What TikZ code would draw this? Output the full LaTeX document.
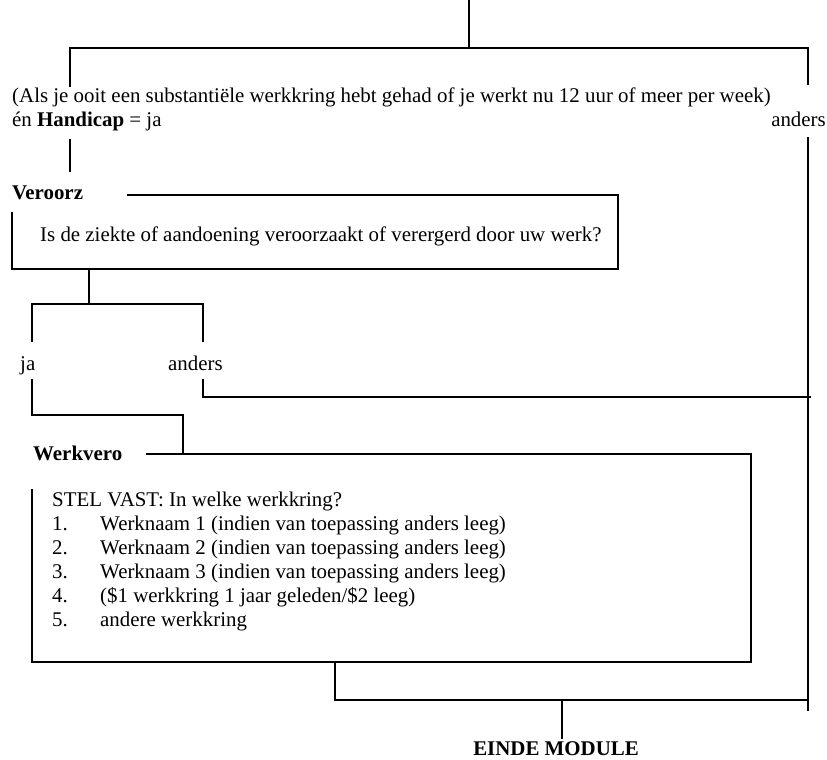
\documentclass[tikz,border=0pt]{standalone}
\usepackage{fontspec}
\setmainfont{Liberation Serif}
\begin{document}
\begin{tikzpicture}[x=1pt,y=-1pt,
  txt/.style={anchor=base west, inner sep=0pt, font=\fontsize{20.9}{24}\selectfont},
  ln/.style={line width=1.8pt, line cap=rect}]
\useasboundingbox (0,0) rectangle (827,760);
% texts
\node[txt] (cond1) at (12,102) {(Als je ooit een substantiële werkkring hebt gehad of je werkt nu 12 uur of meer per week)};
\node[txt] (cond2) at (12,126) {én \textbf{Handicap} = ja};
\node[txt, anchor=base east] (anders1) at (826,126) {anders};
\node[txt] (veroorz) at (12,199) {\textbf{Veroorz}};
\node[txt] (q1) at (40,241) {Is de ziekte of aandoening veroorzaakt of verergerd door uw werk?};
\node[txt] (ja) at (20,370) {ja};
\node[txt] (anders2) at (168,370) {anders};
\node[txt] (werkvero) at (33,460) {\textbf{Werkvero}};
\node[txt] (stel) at (52,506) {STEL VAST: In welke werkkring?};
\node[txt] (n1) at (52,530) {1.};
\node[txt] (i1) at (100,530) {Werknaam 1 (indien van toepassing anders leeg)};
\node[txt] (n2) at (52,554) {2.};
\node[txt] (i2) at (100,554) {Werknaam 2 (indien van toepassing anders leeg)};
\node[txt] (n3) at (52,578) {3.};
\node[txt] (i3) at (100,578) {Werknaam 3 (indien van toepassing anders leeg)};
\node[txt] (n4) at (52,602) {4.};
\node[txt] (i4) at (100,602) {(\$1 werkkring 1 jaar geleden/\$2 leeg)};
\node[txt] (n5) at (52,626) {5.};
\node[txt] (i5) at (100,626) {andere werkkring};
\node[txt, anchor=base] (einde) at (556,755) {\textbf{EINDE MODULE}};
% coordinates
\coordinate (start) at (469,0);
\coordinate (jtop) at (469,48);
\coordinate (lt) at (70,86);
\coordinate (rt) at (808,84);
\coordinate (lb1) at (70,140);
\coordinate (lb2) at (70,171);
\coordinate (rline1) at (808,138);
\coordinate (rline2) at (808,710);
\coordinate (vb1) at (128,195);
\coordinate (vb2) at (618,269);
\coordinate (vb3) at (12,213);
\coordinate (br1) at (89,269);
\coordinate (br2) at (89,304);
\coordinate (jaT) at (32,341);
\coordinate (anT) at (203,341);
\coordinate (jaB) at (32,380);
\coordinate (anB) at (203,380);
\coordinate (wv) at (183,454);
\coordinate (anE) at (810,397);
\coordinate (wb1) at (147,454);
\coordinate (wb2) at (751,662);
\coordinate (wb3) at (32,490);
\coordinate (bot1) at (335,662);
\coordinate (bot2) at (808,700);
\coordinate (ej) at (562,700);
\coordinate (ee) at (562,738);
% connectors
\draw[ln] (start) -- (jtop);
\draw[ln] (lt) |- (jtop -| rt) -- (rt);
\draw[ln] (lb1) -- (lb2);
\draw[ln] (rline1) -- (rline2);
\draw[ln] (vb1) -| (vb2) -| (vb3);
\draw[ln] (br1) -- (br2);
\draw[ln] (jaT) |- (br2) -| (anT);
\draw[ln] (jaB) |- (wv |- 0,415) -- (wv);
\draw[ln] (anB) |- (anE);
\draw[ln] (wb1) -| (wb2) -| (wb3);
\draw[ln] (bot1) |- (bot2);
\draw[ln] (ej) -- (ee);
\end{tikzpicture}
\end{document}
